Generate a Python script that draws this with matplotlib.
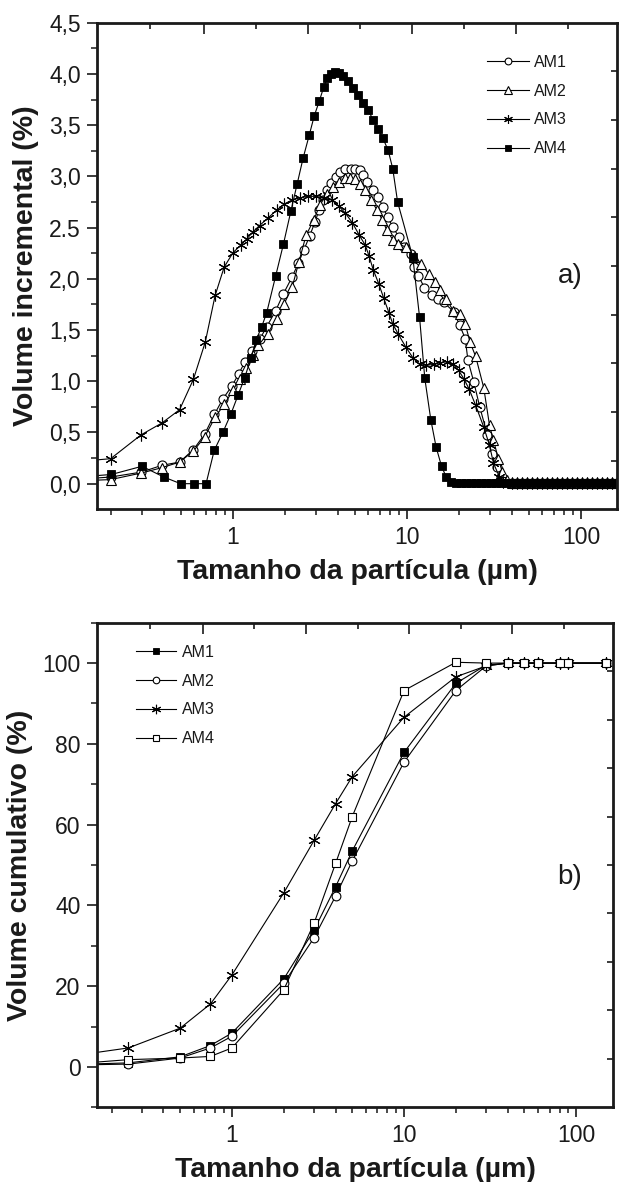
import matplotlib
matplotlib.use('Agg')
import matplotlib.pyplot as plt
from matplotlib.ticker import FixedLocator, NullFormatter, FuncFormatter, LogLocator

plt.rcParams['font.family'] = ['Liberation Sans', 'DejaVu Sans']

# ---------------- data: panel a) incremental volume ----------------
am1_x = [0.1, 0.198, 0.297, 0.39, 0.493, 0.592, 0.686, 0.782, 0.876, 0.983,
         1.08, 1.17, 1.28, 1.43, 1.56, 1.76, 1.95, 2.19, 2.37, 2.56, 2.76,
         2.96, 3.12, 3.29, 3.47, 3.65, 3.89, 4.14, 4.43, 4.74, 5.05,
         5.37, 5.6, 5.91, 6.38, 6.83, 7.28, 7.75, 8.29, 8.96, 9.55,
         10.5, 11.0, 11.6, 12.6, 14.0, 15.1, 16.3, 18.6, 20.1, 21.6,
         22.4, 24.2, 26.2, 29.0, 30.6, 32.7, 34.9]
am1_y = [0.03, 0.065, 0.113, 0.179, 0.211, 0.332, 0.481, 0.677, 0.83, 0.95,
         1.074, 1.188, 1.295, 1.416, 1.53, 1.69, 1.855, 2.02, 2.15, 2.285, 2.42,
         2.555, 2.67, 2.77, 2.865, 2.935, 2.994, 3.043, 3.07, 3.076, 3.076,
         3.06, 3.01, 2.945, 2.865, 2.8, 2.70, 2.60, 2.506, 2.41, 2.31,
         2.246, 2.115, 2.03, 1.914, 1.84, 1.80, 1.77, 1.676, 1.546, 1.416,
         1.204, 0.992, 0.748, 0.472, 0.293, 0.162, 0.065]

am2_x = [0.1, 0.198, 0.297, 0.39, 0.493, 0.592, 0.686, 0.79, 0.89, 1.0,
         1.09, 1.19, 1.3, 1.4, 1.58, 1.78, 1.97, 2.19, 2.39, 2.63,
         2.92, 3.15, 3.47, 3.75, 4.05, 4.38, 4.71, 5.05, 5.4, 5.75,
         6.22, 6.73, 7.2, 7.66, 8.28, 8.9, 9.84, 10.9, 12.1, 13.3,
         14.4, 15.5, 16.8, 18.4, 20.1, 21.6, 23.0, 24.8, 27.6, 29.8,
         31.4, 33.5, 35.3, 37.7]
am2_y = [0.02, 0.04, 0.104, 0.156, 0.211, 0.318, 0.455, 0.65, 0.774, 0.911,
         1.025, 1.133, 1.253, 1.35, 1.465, 1.61, 1.758, 1.92, 2.164, 2.425,
         2.578, 2.718, 2.83, 2.9, 2.945, 2.98, 2.98, 2.97, 2.93, 2.865,
         2.77, 2.67, 2.578, 2.474, 2.383, 2.34, 2.31, 2.213, 2.148, 2.05,
         1.969, 1.888, 1.807, 1.69, 1.66, 1.562, 1.383, 1.243, 0.937, 0.569,
         0.423, 0.244, 0.113, 0.032]

am3_x = [0.1, 0.198, 0.297, 0.39, 0.493, 0.592, 0.693, 0.79, 0.89, 1.0,
         1.11, 1.2, 1.3, 1.42, 1.58, 1.78, 1.97, 2.19, 2.43, 2.69,
         2.99, 3.32, 3.69, 4.05, 4.43, 4.86, 5.32, 5.75, 6.06, 6.39,
         6.9, 7.35, 7.87, 8.28, 8.87, 9.84, 10.8, 11.8, 12.9, 14.2,
         15.5, 16.9, 18.4, 19.8, 21.2, 22.7, 24.8, 27.6, 29.8, 31.4,
         34.0, 35.8]
am3_y = [0.2, 0.244, 0.478, 0.592, 0.722, 1.018, 1.383, 1.84, 2.115, 2.255,
         2.33, 2.39, 2.457, 2.52, 2.59, 2.67, 2.73, 2.77, 2.79, 2.805,
         2.805, 2.79, 2.77, 2.71, 2.64, 2.545, 2.425, 2.33, 2.22, 2.09,
         1.946, 1.81, 1.67, 1.56, 1.465, 1.334, 1.23, 1.165, 1.155, 1.165,
         1.18, 1.19, 1.165, 1.106, 1.025, 0.927, 0.765, 0.553, 0.374, 0.2,
         0.065, 0.016]

am4_x = [0.1, 0.2, 0.3, 0.4, 0.5, 0.6, 0.7, 0.78, 0.876, 0.974,
         1.068, 1.167, 1.27, 1.36, 1.46, 1.56, 1.76, 1.95, 2.15, 2.34,
         2.53, 2.74, 2.93, 3.14, 3.32, 3.48, 3.65, 3.85, 4.05, 4.31,
         4.59, 4.91, 5.26, 5.6, 5.99, 6.39, 6.83, 7.28, 7.79, 8.28,
         8.83, 10.8, 11.8, 12.65, 13.7, 14.7, 15.8, 16.8, 17.9]
am4_y = [0.05, 0.09, 0.17, 0.065, 0.0, 0.0, 0.0, 0.325, 0.504, 0.683,
         0.862, 1.035, 1.227, 1.406, 1.53, 1.666, 2.03, 2.34, 2.66, 2.93,
         3.18, 3.40, 3.59, 3.74, 3.87, 3.96, 4.00, 4.02, 4.01, 3.98,
         3.93, 3.86, 3.79, 3.72, 3.645, 3.55, 3.46, 3.37, 3.255, 3.075,
         2.75, 2.21, 1.63, 1.03, 0.625, 0.357, 0.169, 0.065, 0.02]

# flat zero tails (coarse particles)
tail_x = [40.3, 43.0, 46.0, 49.1, 52.5, 56.1, 59.9, 64.0, 68.4, 73.1, 78.1,
          83.4, 89.1, 95.2, 101.7, 108.7, 116.1, 124.1, 132.6, 141.6, 151.3, 161.7]
tail_y = [0.01, 0.01, 0.01, 0.01, 0.01, 0.01, 0.01, 0.01, 0.01, 0.01, 0.01,
          0.01, 0.01, 0.01, 0.01, 0.01, 0.01, 0.01, 0.01, 0.01, 0.01, 0.01]
am4_tail_x = [19.0, 20.3, 21.7, 23.2, 24.8, 26.5, 28.3, 30.2, 32.3, 34.5, 36.9,
              39.4, 42.1, 45.0, 48.1, 51.4, 54.9, 58.7, 62.7, 67.0, 71.6, 76.5,
              81.8, 87.4, 93.4, 99.8, 106.7, 114.0, 121.8, 130.2, 139.1, 148.6, 158.8]
am4_tail_y = [0.01, 0.01, 0.01, 0.01, 0.01, 0.01, 0.01, 0.01, 0.01, 0.01, 0.01,
              0.01, 0.01, 0.01, 0.01, 0.01, 0.01, 0.01, 0.01, 0.01, 0.01, 0.01,
              0.01, 0.01, 0.01, 0.01, 0.01, 0.01, 0.01, 0.01, 0.01, 0.01, 0.01]

# ---------------- data: panel b) cumulative volume ----------------
cum_x = [0.1, 0.25, 0.5, 0.75, 1, 2, 3, 4, 5, 10, 20, 30, 40, 50, 60, 80, 90, 150]
cum_am1 = [0.5, 1.0, 2.5, 5.3, 8.4, 21.8, 33.9, 44.6, 53.5, 77.9, 95.0, 99.5,
           100, 100, 100, 100, 100, 100]
cum_am2 = [0.4, 0.7, 2.2, 4.7, 7.6, 20.7, 32.0, 42.3, 51.0, 75.5, 93.2, 99.3,
           100, 100, 100, 100, 100, 100]
cum_am3 = [2.3, 4.7, 9.6, 15.6, 22.8, 43.1, 56.1, 65.2, 71.9, 86.6, 96.6, 99.3,
           100, 100, 100, 100, 100, 100]
cum_am4 = [0.5, 1.8, 2.2, 2.6, 4.7, 19.1, 35.6, 50.4, 62.0, 93.2, 100.2, 100,
           100, 100, 100, 100, 100, 100]

labels = ['AM1', 'AM2', 'AM3', 'AM4']
ytick_a = [0.0, 0.5, 1.0, 1.5, 2.0, 2.5, 3.0, 3.5, 4.0, 4.5]
ytick_a_labels = ['0,0', '0,5', '1,0', '1,5', '2,0', '2.5', '3,0', '3,5', '4,0', '4,5']
ytick_b = [0, 20, 40, 60, 80, 100]
xlabel = 'Tamanho da partícula (µm)'

# ---------------- figure ----------------
W, H = 619, 1182
fig = plt.figure(figsize=(W / 100, H / 100), dpi=100)
INK = '#1a1a1a'
ASTER = (6, 2, 0)


def rect(l, t, r, b):
    return [l / W, 1 - b / H, (r - l) / W, (b - t) / H]


ax1 = fig.add_axes(rect(97.3, 22.7, 617, 509.3))
ax2 = fig.add_axes(rect(97.3, 622.7, 612.7, 1107.3))


def style(ax, ylim, yt, ytl, yminor, xlim):
    ax.set_xscale('log')
    ax.set_xlim(*xlim)
    ax.set_ylim(*ylim)
    for s in ax.spines.values():
        s.set_linewidth(2.0)
        s.set_color(INK)
    ax.xaxis.set_major_locator(FixedLocator([1, 10, 100]))
    ax.xaxis.set_major_formatter(FuncFormatter(lambda v, p: f'{v:g}'))
    ax.xaxis.set_minor_locator(LogLocator(base=10, subs=(2, 3, 4, 5, 6, 7, 8, 9), numticks=20))
    ax.xaxis.set_minor_formatter(NullFormatter())
    ax.set_yticks(yt)
    ax.set_yticklabels(ytl)
    ax.yaxis.set_minor_locator(FixedLocator(yminor))
    ax.tick_params(which='major', direction='out', length=7, width=1.2,
                   labelsize=16.5, colors=INK, top=False, right=False, pad=5)
    ax.tick_params(which='minor', direction='out', length=4, width=1.1,
                   colors=INK, top=False, right=False)


def overlay(ax):
    o = fig.add_axes(ax.get_position(), facecolor='none')
    o.set_xlim(0, 1)
    o.set_ylim(0, 1)
    for s in o.spines.values():
        s.set_visible(False)
    o.xaxis.set_ticks_position('top')
    o.yaxis.set_ticks_position('right')
    o.set_xticks([0.205, 0.405, 0.605, 0.805])
    o.set_xticks([0.102, 0.305, 0.505, 0.705, 0.905], minor=True)
    o.set_yticks([0.1, 0.2, 0.3, 0.4, 0.5, 0.6, 0.7, 0.8, 0.9])
    o.tick_params(which='both', direction='in', labeltop=False, labelright=False,
                  labelbottom=False, labelleft=False, colors=INK, width=1.2)
    o.tick_params(axis='x', which='major', length=8)
    o.tick_params(axis='x', which='minor', length=4)
    o.tick_params(axis='y', which='major', length=4)
    return o


line_kw = dict(color='black', lw=0.8)

# panel a
h1, = ax1.plot(am1_x + tail_x, am1_y + tail_y, marker='o', ms=6.5, mfc='white',
               mec='black', mew=0.8, label='AM1', **line_kw)
h2, = ax1.plot(am2_x + tail_x, am2_y + tail_y, marker='^', ms=7.5, mfc='white',
               mec='black', mew=0.8, label='AM2', **line_kw)
h3, = ax1.plot(am3_x + tail_x, am3_y + tail_y, marker=ASTER, ms=8.5, mfc='black',
               mec='black', mew=0.8, label='AM3', **line_kw)
h4, = ax1.plot(am4_x + am4_tail_x, am4_y + am4_tail_y, marker='s', ms=5.2,
               mfc='black', mec='black', mew=0.6, label='AM4', **line_kw)

style(ax1, (-0.25, 4.5), ytick_a, ytick_a_labels,
      [0.25, 0.75, 1.25, 1.75, 2.25, 2.75, 3.25, 3.75, 4.25], (0.166, 161))
ax1.set_xlabel(xlabel, fontsize=20.5, fontweight='bold', color=INK, labelpad=7)
ax1.set_ylabel('Volume incremental (%)', fontsize=20.5, fontweight='bold',
               color=INK, labelpad=7)
overlay(ax1)

leg1 = ax1.legend([h1, h2, h3, h4], labels, loc='upper left',
                  bbox_to_anchor=(487 / W, 1 - 55 / H), bbox_transform=fig.transFigure,
                  frameon=False, fontsize=11.5, handlelength=2.6, handletextpad=0.35,
                  labelspacing=0.86, borderpad=0, borderaxespad=0, markerscale=0.75)
for t in leg1.get_texts():
    t.set_color(INK)
fig.text(570 / W, 1 - 276 / H, 'a)', ha='center', va='center', fontsize=20, color=INK)

# panel b
g1, = ax2.plot(cum_x, cum_am1, marker='s', ms=5.2, mfc='black', mec='black',
               mew=0.6, label='AM1', **line_kw)
g2, = ax2.plot(cum_x, cum_am2, marker='o', ms=6.3, mfc='white', mec='black',
               mew=0.8, label='AM2', **line_kw)
g3, = ax2.plot(cum_x, cum_am3, marker=ASTER, ms=9, mfc='black', mec='black',
               mew=0.8, label='AM3', **line_kw)
g4, = ax2.plot(cum_x, cum_am4, marker='s', ms=5.5, mfc='white', mec='black',
               mew=0.8, label='AM4', **line_kw)

style(ax2, (-10, 110), ytick_b, [str(v) for v in ytick_b],
      [-10, 10, 30, 50, 70, 90, 110], (0.165, 163))
ax2.set_xlabel(xlabel, fontsize=20.5, fontweight='bold', color=INK, labelpad=7)
ax2.set_ylabel('Volume cumulativo (%)', fontsize=20.5, fontweight='bold',
               color=INK, labelpad=7)
overlay(ax2)

leg2 = ax2.legend([g1, g2, g3, g4], labels, loc='upper left',
                  bbox_to_anchor=(136 / W, 1 - 645 / H), bbox_transform=fig.transFigure,
                  frameon=False, fontsize=11.5, handlelength=2.5, handletextpad=0.35,
                  labelspacing=0.86, borderpad=0, borderaxespad=0, markerscale=0.75)
for t in leg2.get_texts():
    t.set_color(INK)
fig.text(570 / W, 1 - 877 / H, 'b)', ha='center', va='center', fontsize=20, color=INK)

fig.savefig('out.png', dpi=100)
